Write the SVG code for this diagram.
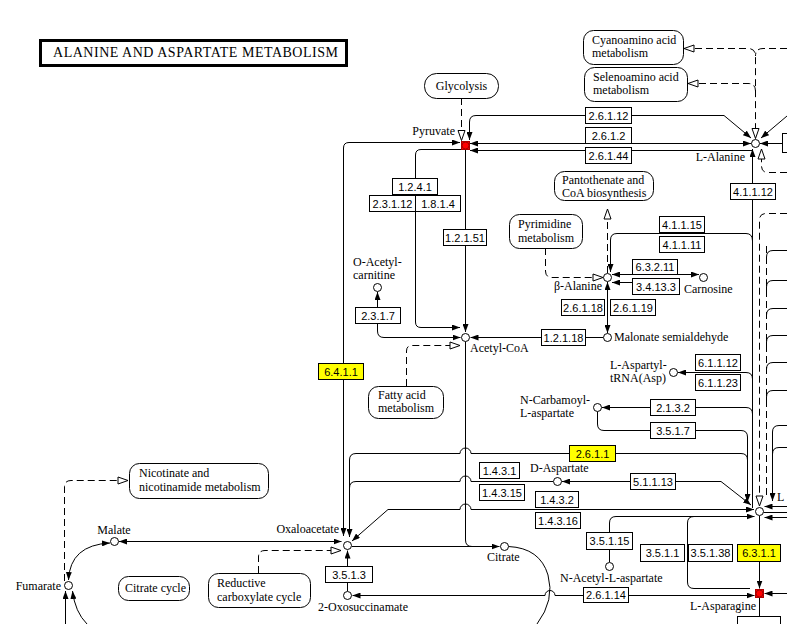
<svg xmlns="http://www.w3.org/2000/svg" width="787" height="624" viewBox="0 0 787 624">
<style>
.ln{fill:none;stroke:#000;stroke-width:1}
.ds{fill:none;stroke:#000;stroke-width:1;stroke-dasharray:7 4}
.ec rect{fill:#fff;stroke:#000;stroke-width:1}
.hl rect{fill:#ffff00}
.ec text{font-family:"Liberation Sans",Arial,sans-serif;font-size:11px;text-anchor:middle;fill:#000}
.cpd circle{fill:#fff;stroke:#000;stroke-width:1}
.red rect{fill:#ff0000;stroke:#b00000;stroke-width:1}
.red circle{fill:#ff0000;stroke:#a00000}
.cpd text,.map text,.title text{font-family:"Liberation Serif","Times New Roman",serif;font-size:12px;fill:#000}
.map rect{fill:#fff;stroke:#000;stroke-width:1}
</style>
<defs>
<marker id="a" viewBox="0 0 8 6" refX="8" refY="3" markerWidth="8" markerHeight="6" markerUnits="userSpaceOnUse" orient="auto-start-reverse"><path d="M0 0L8 3L0 6z" fill="#000"/></marker>
<marker id="o" viewBox="-1 -1 12 9" refX="10" refY="3.5" markerWidth="12" markerHeight="9" markerUnits="userSpaceOnUse" orient="auto-start-reverse"><path d="M0 0L10 3.5L0 7z" fill="#fff" stroke="#000" stroke-width="1"/></marker>
</defs>
<rect width="787" height="624" fill="#fff"/>

<g id="title" class="title"><rect x="40.5" y="40.5" width="306" height="25" fill="#fff" stroke="#000" stroke-width="3"/><text x="53" y="57" textLength="285" lengthAdjust="spacing" style="font-size:14px">ALANINE AND ASPARTATE METABOLISM</text></g>

<g id="connectors">
<path class="ln" d="M460 142.5H349Q343.5 142.5 343.5 148V536" marker-start="url(#a)" marker-end="url(#a)"/>
<path class="ln" d="M461 149.5H421Q415.5 149.5 415.5 155V322Q415.5 327.5 421 327.5H460" marker-end="url(#a)"/>
<path class="ln" d="M465.5 150V332" marker-end="url(#a)"/>
<path class="ln" d="M465.5 341.5V540Q465.5 546.5 472 546.5"/>
<path class="ln" d="M377.5 292V331Q377.5 337.5 384 337.5H460.5" marker-start="url(#a)" marker-end="url(#a)"/>
<path class="ln" d="M603 337.5H470.5" marker-end="url(#a)"/>
<path class="ln" d="M607.5 282V333" marker-start="url(#a)" marker-end="url(#a)"/>
<path class="ln" d="M612 274.5H699" marker-start="url(#a)" marker-end="url(#a)"/>
<path class="ln" d="M632.5 282.5H612" marker-end="url(#a)"/>
<path class="ln" d="M752.5 241Q752.5 233.5 746 233.5H617Q610.5 233.5 610.5 240V272" marker-end="url(#a)"/>
<path class="ds" d="M607.5 273V209" marker-end="url(#o)"/>
<path class="ds" d="M545.5 248V271Q545.5 277.5 552 277.5H603" marker-end="url(#o)"/>
<path class="ds" d="M406.5 386V351Q406.5 345.5 412 345.5H460" marker-end="url(#o)"/>
<path class="ds" d="M461.5 98V140.5" marker-end="url(#o)"/>
<path class="ln" d="M469.5 140V122Q469.5 115.5 476 115.5H724L751 138" marker-start="url(#a)" marker-end="url(#a)"/>
<path class="ln" d="M470 143.5H751" marker-start="url(#a)" marker-end="url(#a)"/>
<path class="ln" d="M470 150.5H752.5" marker-start="url(#a)"/>
<path class="ln" d="M752.5 149V508" marker-start="url(#a)"/>
<path class="ds" d="M787 172.5H768Q761.5 172.5 761.5 166V149" marker-end="url(#o)"/>
<path class="ln" d="M787 116L761 138" marker-end="url(#a)"/>
<path class="ln" d="M782 143.5H760" marker-end="url(#a)"/>
<path class="ds" d="M684 48.5H748Q755.5 48.5 755.5 56V138.5" marker-start="url(#o)" marker-end="url(#o)"/>
<path class="ds" d="M787 48.5H763Q755.5 48.5 755.5 56"/>
<path class="ds" d="M688 83.5H748Q755.5 83.5 755.5 91" marker-start="url(#o)"/>
<path class="ds" d="M787 213.5H766Q759.5 213.5 759.5 220V506" marker-end="url(#o)"/>
<path class="ds" d="M766.5 246V498"/>
<path class="ln" d="M787 250.5H773Q766.5 250.5 766.5 257V261M787 280.5H773Q766.5 280.5 766.5 287V291M787 308.5H773Q766.5 308.5 766.5 315V319M787 335.5H773Q766.5 335.5 766.5 342V346M787 362.5H773Q766.5 362.5 766.5 369V373M787 390.5H773Q766.5 390.5 766.5 397V401"/>
<path class="ln" d="M787 425.5H779Q772.5 425.5 772.5 432V501" marker-end="url(#a)"/>
<path class="ln" d="M787 447.5H779Q772.5 447.5 772.5 454"/>
<path class="ln" d="M678 372.5H746Q752.5 372.5 752.5 379" marker-start="url(#a)"/>
<path class="ln" d="M602 407.5H746Q752.5 407.5 752.5 414" marker-start="url(#a)"/>
<path class="ln" d="M597.5 411.5V424Q597.5 430.5 604 430.5H741Q747.5 430.5 747.5 437V460"/>
<path class="ln" d="M349.5 537V460Q349.5 453.5 356 453.5H460A5.5 5.5 0 0 1 471 453.5H741Q747.5 453.5 747.5 460V502" marker-start="url(#a)" marker-end="url(#a)"/>
<path class="ln" d="M553 481.5H471A5.5 5.5 0 0 0 460 481.5H356Q349.5 481.5 349.5 488"/>
<path class="ln" d="M562 481.5H721L751 505" marker-start="url(#a)" marker-end="url(#a)"/>
<path class="ln" d="M754 509.5H471A5.5 5.5 0 0 0 460 509.5H388L352 541" marker-start="url(#a)" marker-end="url(#a)"/>
<path class="ln" d="M609.5 562V523Q609.5 516.5 616 516.5H754.5" marker-end="url(#a)"/>
<path class="ln" d="M750 588.5H694Q687.5 588.5 687.5 582V523Q687.5 516.5 694 516.5"/>
<path class="ln" d="M759.5 516V588.5" marker-end="url(#a)"/>
<path class="ln" d="M759.5 598V616"/>
<path class="ln" d="M352.5 595.5H545A5 5 0 0 1 555 595.5H754.5" marker-start="url(#a)" marker-end="url(#a)"/>
<path class="ln" d="M787 506.5H764.5" marker-end="url(#a)"/>
<path class="ln" d="M787 512.5H763.5"/>
<path class="ln" d="M787 517.5H764.5" marker-end="url(#a)"/>
<path class="ln" d="M787 593.5H764.5" marker-end="url(#a)"/>
<path class="ln" d="M352 546.5H499.5" marker-end="url(#a)"/>
<path class="ln" d="M341.5 541.5H119" marker-start="url(#a)" marker-end="url(#a)"/>
<path class="ln" d="M347.5 591V550.5" marker-end="url(#a)"/>
<path class="ds" d="M258.5 573V557Q258.5 550.5 265 550.5H341" marker-end="url(#o)"/>
<path class="ln" d="M110 543Q70 545 68.5 580" marker-start="url(#a)" marker-end="url(#a)"/>
<path class="ln" d="M65.5 624V591" marker-end="url(#a)"/>
<path class="ln" d="M87 624Q75 612 72.5 591" marker-end="url(#a)"/>
<path class="ds" d="M64.5 581V487Q64.5 480.5 71 480.5H128" marker-end="url(#o)"/>
<path class="ln" d="M508.5 546.5Q540 548 548 575Q555 600 537 624"/>
</g>

<g id="map_glycolysis" class="map"><rect x="424.5" y="73.5" width="74" height="25" rx="12"/><text x="461.5" y="89.5" text-anchor="middle">Glycolysis</text></g>
<g id="map_cyanoamino" class="map"><rect x="583.5" y="30.5" width="100" height="34" rx="10"/><text x="592" y="44">Cyanoamino acid</text><text x="592" y="57">metabolism</text></g>
<g id="map_selenoamino" class="map"><rect x="584.5" y="67.5" width="103" height="34" rx="10"/><text x="593" y="81">Selenoamino acid</text><text x="593" y="94">metabolism</text></g>
<g id="map_pantothenate" class="map"><rect x="554.5" y="171.5" width="99" height="29" rx="10"/><text x="562" y="184">Pantothenate and</text><text x="562" y="197">CoA biosynthesis</text></g>
<g id="map_pyrimidine" class="map"><rect x="509.5" y="214.5" width="73" height="34" rx="10"/><text x="518" y="228">Pyrimidine</text><text x="518" y="242">metabolism</text></g>
<g id="map_fatty" class="map"><rect x="368.5" y="386.5" width="75" height="32" rx="10"/><text x="378" y="399">Fatty acid</text><text x="378" y="412">metabolism</text></g>
<g id="map_nicotinate" class="map"><rect x="129.5" y="463.5" width="139" height="35" rx="10"/><text x="139" y="477">Nicotinate and</text><text x="139" y="491">nicotinamide metabolism</text></g>
<g id="map_citrate" class="map"><rect x="118.5" y="576.5" width="71" height="24" rx="10"/><text x="125" y="592">Citrate cycle</text></g>
<g id="map_reductive" class="map"><rect x="208.5" y="573.5" width="102" height="34" rx="10"/><text x="217" y="587">Reductive</text><text x="217" y="601">carboxylate cycle</text></g>

<g id="ec_2.6.1.12" class="ec"><rect x="585.5" y="107.5" width="46" height="16"/><text x="608.5" y="119.5">2.6.1.12</text></g>
<g id="ec_2.6.1.2" class="ec"><rect x="585.5" y="127.5" width="46" height="16"/><text x="608.5" y="139.5">2.6.1.2</text></g>
<g id="ec_2.6.1.44" class="ec"><rect x="585.5" y="147.5" width="46" height="16"/><text x="608.5" y="159.5">2.6.1.44</text></g>
<g id="ec_1.2.4.1" class="ec"><rect x="392.5" y="178.5" width="45" height="16"/><text x="415" y="190.5">1.2.4.1</text></g>
<g id="ec_2.3.1.12" class="ec"><rect x="369.5" y="195.5" width="46" height="16"/><text x="392.5" y="207.5">2.3.1.12</text></g>
<g id="ec_1.8.1.4" class="ec"><rect x="415.5" y="195.5" width="45" height="16"/><text x="438" y="207.5">1.8.1.4</text></g>
<g id="ec_1.2.1.51" class="ec"><rect x="443.5" y="229.5" width="43" height="16"/><text x="465" y="241.5">1.2.1.51</text></g>
<g id="ec_2.3.1.7" class="ec"><rect x="355.5" y="307.5" width="45" height="16"/><text x="378" y="319.5">2.3.1.7</text></g>
<g id="ec_6.4.1.1" class="ec hl"><rect x="318.5" y="363.5" width="45" height="16"/><text x="341" y="375.5">6.4.1.1</text></g>
<g id="ec_4.1.1.12" class="ec"><rect x="730.5" y="183.5" width="45" height="16"/><text x="753" y="195.5">4.1.1.12</text></g>
<g id="ec_4.1.1.15" class="ec"><rect x="659.5" y="216.5" width="45" height="16"/><text x="682" y="228.5">4.1.1.15</text></g>
<g id="ec_4.1.1.11" class="ec"><rect x="659.5" y="236.5" width="45" height="16"/><text x="682" y="248.5">4.1.1.11</text></g>
<g id="ec_6.3.2.11" class="ec"><rect x="632.5" y="259.5" width="45" height="15"/><text x="655" y="271">6.3.2.11</text></g>
<g id="ec_3.4.13.3" class="ec"><rect x="632.5" y="278.5" width="47" height="16"/><text x="656" y="290.5">3.4.13.3</text></g>
<g id="ec_2.6.1.18" class="ec"><rect x="561.5" y="299.5" width="43" height="16"/><text x="583" y="311.5">2.6.1.18</text></g>
<g id="ec_2.6.1.19" class="ec"><rect x="610.5" y="299.5" width="45" height="16"/><text x="633" y="311.5">2.6.1.19</text></g>
<g id="ec_1.2.1.18" class="ec"><rect x="541.5" y="329.5" width="44" height="16"/><text x="563.5" y="341.5">1.2.1.18</text></g>
<g id="ec_6.1.1.12" class="ec"><rect x="695.5" y="354.5" width="45" height="16"/><text x="718" y="366.5">6.1.1.12</text></g>
<g id="ec_6.1.1.23" class="ec"><rect x="695.5" y="374.5" width="45" height="16"/><text x="718" y="386.5">6.1.1.23</text></g>
<g id="ec_2.1.3.2" class="ec"><rect x="650.5" y="399.5" width="45" height="16"/><text x="673" y="411.5">2.1.3.2</text></g>
<g id="ec_3.5.1.7" class="ec"><rect x="650.5" y="422.5" width="45" height="16"/><text x="673" y="434.5">3.5.1.7</text></g>
<g id="ec_2.6.1.1" class="ec hl"><rect x="569.5" y="445.5" width="46" height="16"/><text x="592.5" y="457.5">2.6.1.1</text></g>
<g id="ec_1.4.3.1" class="ec"><rect x="479.5" y="462.5" width="40" height="16"/><text x="499.5" y="474.5">1.4.3.1</text></g>
<g id="ec_1.4.3.15" class="ec"><rect x="479.5" y="484.5" width="45" height="16"/><text x="502" y="496.5">1.4.3.15</text></g>
<g id="ec_5.1.1.13" class="ec"><rect x="630.5" y="473.5" width="45" height="16"/><text x="653" y="485.5">5.1.1.13</text></g>
<g id="ec_1.4.3.2" class="ec"><rect x="535.5" y="491.5" width="43" height="16"/><text x="557" y="503.5">1.4.3.2</text></g>
<g id="ec_1.4.3.16" class="ec"><rect x="535.5" y="512.5" width="45" height="16"/><text x="558" y="524.5">1.4.3.16</text></g>
<g id="ec_3.5.1.15" class="ec"><rect x="586.5" y="532.5" width="46" height="17"/><text x="609.5" y="545">3.5.1.15</text></g>
<g id="ec_3.5.1.1" class="ec"><rect x="640.5" y="544.5" width="44" height="17"/><text x="662.5" y="557">3.5.1.1</text></g>
<g id="ec_3.5.1.38" class="ec"><rect x="688.5" y="544.5" width="44" height="17"/><text x="710.5" y="557">3.5.1.38</text></g>
<g id="ec_6.3.1.1" class="ec hl"><rect x="737.5" y="544.5" width="43" height="17"/><text x="759" y="557">6.3.1.1</text></g>
<g id="ec_3.5.1.3" class="ec"><rect x="325.5" y="566.5" width="47" height="16"/><text x="349" y="578.5">3.5.1.3</text></g>
<g id="ec_2.6.1.14" class="ec"><rect x="583.5" y="587.5" width="45" height="15"/><text x="606" y="599">2.6.1.14</text></g>
<g id="ec_edge_right" class="ec"><rect x="782.5" y="133.5" width="20" height="19"/></g>
<g id="ec_edge_bottom" class="ec"><rect x="737.5" y="616.5" width="43" height="16"/></g>

<g id="cpd_pyruvate" class="cpd red"><rect x="461.5" y="141.5" width="8" height="8"/><circle cx="465.5" cy="145.5" r="3.5"/><text x="455" y="135" text-anchor="end">Pyruvate</text></g>
<g id="cpd_l_alanine" class="cpd"><circle cx="755.5" cy="143.5" r="4"/><text x="745" y="161" text-anchor="end">L-Alanine</text></g>
<g id="cpd_acetyl_coa" class="cpd"><circle cx="465.5" cy="337.5" r="4"/><text x="470" y="352">Acetyl-CoA</text></g>
<g id="cpd_o_acetylcarnitine" class="cpd"><circle cx="377.5" cy="287.5" r="4"/><text x="353" y="266">O-Acetyl-</text><text x="353" y="279">carnitine</text></g>
<g id="cpd_beta_alanine" class="cpd"><circle cx="607.5" cy="277.5" r="4"/><text x="602" y="290" text-anchor="end">β-Alanine</text></g>
<g id="cpd_carnosine" class="cpd"><circle cx="703.5" cy="277.5" r="4"/><text x="684" y="293">Carnosine</text></g>
<g id="cpd_malonate" class="cpd"><circle cx="607.5" cy="337.5" r="4"/><text x="614" y="341">Malonate semialdehyde</text></g>
<g id="cpd_aspartyl_trna" class="cpd"><circle cx="673.5" cy="372.5" r="4"/><text x="610" y="369">L-Aspartyl-</text><text x="610" y="382">tRNA(Asp)</text></g>
<g id="cpd_n_carbamoyl" class="cpd"><circle cx="597.5" cy="407.5" r="4"/><text x="520" y="404">N-Carbamoyl-</text><text x="520" y="417">L-aspartate</text></g>
<g id="cpd_d_aspartate" class="cpd"><circle cx="557.5" cy="481.5" r="4"/><text x="530" y="472">D-Aspartate</text></g>
<g id="cpd_l_aspartate" class="cpd"><circle cx="759.5" cy="511.5" r="4"/><text x="777" y="501">L</text></g>
<g id="cpd_oxaloacetate" class="cpd"><circle cx="347.5" cy="545.5" r="4"/><text x="339" y="533" text-anchor="end">Oxaloacetate</text></g>
<g id="cpd_citrate" class="cpd"><circle cx="504.5" cy="546.5" r="4"/><text x="487" y="561">Citrate</text></g>
<g id="cpd_malate" class="cpd"><circle cx="114.5" cy="541.5" r="4"/><text x="114" y="534" text-anchor="middle">Malate</text></g>
<g id="cpd_fumarate" class="cpd"><circle cx="68.5" cy="585.5" r="4"/><text x="61" y="590" text-anchor="end">Fumarate</text></g>
<g id="cpd_oxosuccinamate" class="cpd"><circle cx="347.5" cy="595.5" r="4"/><text x="318" y="611">2-Oxosuccinamate</text></g>
<g id="cpd_n_acetyl_aspartate" class="cpd"><circle cx="609.5" cy="566.5" r="4"/><text x="560" y="582">N-Acetyl-L-aspartate</text></g>
<g id="cpd_l_asparagine" class="cpd red"><rect x="755.5" y="589.5" width="8" height="8"/><circle cx="759.5" cy="593.5" r="3.5"/><text x="690" y="610">L-Asparagine</text></g>
</svg>
